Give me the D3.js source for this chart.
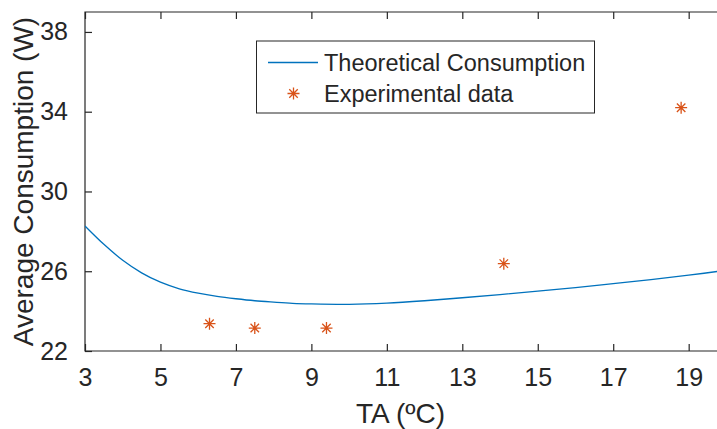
<!DOCTYPE html>
<html>
<head>
<meta charset="utf-8">
<script src="https://cdn.jsdelivr.net/npm/d3@7"></script>
<style>
  body { margin: 0; background: #fff; }
  svg { display: block; font-family: "Liberation Sans", Arial, sans-serif; }
  .tick text { fill: #262626; }
  .frame { fill: none; stroke: #262626; stroke-width: 1.2px; }
</style>
</head>
<body>
<svg id="chart" width="717" height="429"></svg>
<script>
  // theoretical curve
  const curveTA = [3, 3.5, 4, 4.5, 5, 5.5, 6, 6.5, 7, 7.5, 8, 8.5, 9, 10, 11, 12, 13, 14, 15, 16, 17, 18, 19, 20];
  const curveW  = [28.27, 27.35, 26.55, 25.92, 25.45, 25.12, 24.9, 24.74, 24.62, 24.52, 24.45, 24.39, 24.36, 24.34, 24.4, 24.52, 24.67, 24.83, 25.0, 25.18, 25.38, 25.58, 25.8, 26.05];

  // experimental points
  const expTA = [6.3, 7.5, 9.4, 14.1, 18.8];
  const expW  = [23.37, 23.15, 23.15, 26.38, 34.2];

  const xTicks = [3, 5, 7, 9, 11, 13, 15, 17, 19];
  const yTicks = [22, 26, 30, 34, 38];

  const legendLabels = ["Theoretical Consumption", "Experimental data"];

  const blue = "#0072BD", orange = "#D95319", ink = "#262626";

  const svg = d3.select("#chart");
  const mLeft = 85, mTop = 12, mBottom = 351;

  const x = d3.scaleLinear().domain([3, 20]).range([mLeft, mLeft + 17 * 37.73]);
  const y = d3.scaleLinear().domain([22, 39]).range([mBottom, mTop]);

  svg.append("defs").append("clipPath").attr("id", "plot")
    .append("rect").attr("x", mLeft).attr("y", mTop)
    .attr("width", x(20) - mLeft).attr("height", mBottom - mTop);

  // bottom axis, ticks pointing in
  const xAxis = svg.append("g").attr("transform", `translate(0,${mBottom})`)
    .call(d3.axisBottom(x).tickValues(xTicks).tickSizeInner(-7).tickSizeOuter(0).tickPadding(17));
  xAxis.select(".domain").remove();
  xAxis.selectAll(".tick line").attr("stroke", ink).attr("stroke-width", 1.2);
  xAxis.selectAll(".tick text").attr("font-size", 25).attr("dy", "0.71em");

  // top ticks
  const xTop = svg.append("g").attr("transform", `translate(0,${mTop})`)
    .call(d3.axisTop(x).tickValues(xTicks).tickSizeInner(-7).tickSizeOuter(0).tickFormat(""));
  xTop.select(".domain").remove();
  xTop.selectAll(".tick line").attr("stroke", ink).attr("stroke-width", 1.2);

  const yAxis = svg.append("g").attr("transform", `translate(${mLeft},0)`)
    .call(d3.axisLeft(y).tickValues(yTicks).tickSizeInner(-7).tickSizeOuter(0).tickPadding(17));
  yAxis.select(".domain").remove();
  yAxis.selectAll(".tick line").attr("stroke", ink).attr("stroke-width", 1.2);
  yAxis.selectAll(".tick text").attr("font-size", 25);

  // box (left, bottom, top; right side falls outside the image)
  svg.append("path").attr("class", "frame")
    .attr("d", `M${x(20) + 5},${mTop}H${mLeft}V${mBottom}H${x(20) + 5}`);

  const plot = svg.append("g").attr("clip-path", "url(#plot)");

  const line = d3.line()
    .x((d, i) => x(curveTA[i]))
    .y(d => y(d))
    .curve(d3.curveCatmullRom.alpha(0.5));

  plot.append("path").datum(curveW)
    .attr("fill", "none").attr("stroke", blue).attr("stroke-width", 1.3)
    .attr("d", line);

  function star(g, cx, cy, r) {
    const d = r * Math.SQRT1_2;
    g.append("path")
      .attr("d", `M${cx - r},${cy}H${cx + r}M${cx},${cy - r}V${cy + r}` +
                 `M${cx - d},${cy - d}L${cx + d},${cy + d}M${cx - d},${cy + d}L${cx + d},${cy - d}`)
      .attr("stroke", orange).attr("stroke-width", 1.3).attr("fill", "none");
  }

  expTA.forEach((t, i) => star(plot, x(t), y(expW[i]), 6));

  // axis labels
  svg.append("text").attr("x", (mLeft + 717) / 2 - 0.5).attr("y", 423)
    .attr("text-anchor", "middle").attr("font-size", 28).attr("fill", ink)
    .text("TA (ºC)");
  svg.append("text")
    .attr("transform", `translate(33,${(mTop + mBottom) / 2}) rotate(-90)`)
    .attr("text-anchor", "middle").attr("font-size", 28).attr("fill", ink)
    .text("Average Consumption (W)");

  // legend
  const lg = svg.append("g");
  lg.append("rect").attr("x", 256.5).attr("y", 41).attr("width", 338).attr("height", 72)
    .attr("fill", "#fff").attr("stroke", ink).attr("stroke-width", 1);
  lg.append("line").attr("x1", 268).attr("x2", 318).attr("y1", 62.5).attr("y2", 62.5)
    .attr("stroke", blue).attr("stroke-width", 1.3);
  star(lg, 293.5, 93.5, 6);
  lg.selectAll("text.leg").data(legendLabels).join("text").attr("class", "leg")
    .attr("x", 324).attr("y", (d, i) => 71 + i * 31)
    .attr("font-size", 23.5).attr("fill", ink)
    .text(d => d);
</script>
</body>
</html>
